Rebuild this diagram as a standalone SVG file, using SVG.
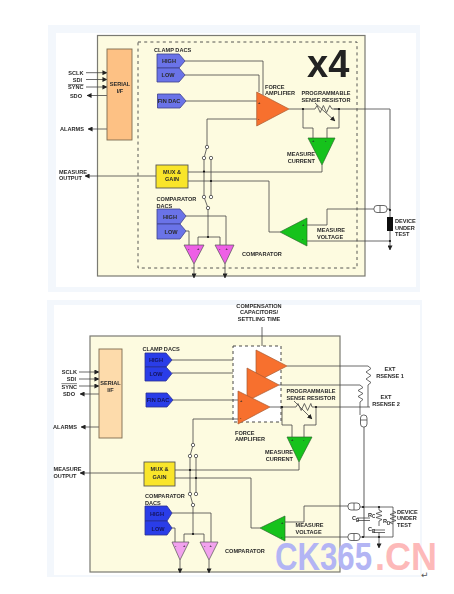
<svg xmlns="http://www.w3.org/2000/svg" width="454" height="594" viewBox="0 0 454 594">
<defs>
<marker id="ah" viewBox="0 0 6 6" refX="5.500" refY="3" markerWidth="5" markerHeight="5" markerUnits="userSpaceOnUse" orient="auto"><path d="M0 0L6 3L0 6Z" fill="#222"/></marker>
<filter id="soft" x="-5%" y="-5%" width="110%" height="110%"><feGaussianBlur stdDeviation="0.28"/></filter>
</defs>
<style>
text{font-family:"Liberation Sans",Arial,sans-serif;font-weight:700;font-size:5.6px;fill:#2a2a2a}
.m{text-anchor:middle}.e{text-anchor:end}
.sg{font-size:4px}
.panel{fill:#fdfbe0;stroke:#7a7a72;stroke-width:1.2}
.dash{fill:none;stroke:#444;stroke-width:.9;stroke-dasharray:3 3.2}
.w{fill:none;stroke:#444;stroke-width:.8}
.th{fill:none;stroke:#777;stroke-width:1.2}
.a{marker-end:url(#ah)}
.dot{fill:#111}
.sw{fill:#fff;stroke:#444;stroke-width:.8}
.d1{fill:#6a73e8;stroke:#3d3f8a;stroke-width:.8}
.d2{fill:#2a3ee8;stroke:#2a2f90;stroke-width:.8}
.or{fill:#f7702e;stroke:#a85a30;stroke-width:.7}
.gr{fill:#12c21a;stroke:#2c6b2c;stroke-width:.7}
.mg{fill:#ee5fe6;stroke:#555;stroke-width:.7}
.pk{fill:#f2a2ee;stroke:#555;stroke-width:.7}
.ye{fill:#f9e52a;stroke:#555;stroke-width:.9}
.s1{fill:#fdc184;stroke:#7d6a50;stroke-width:.9}
.s2{fill:#fddbab;stroke:#7d6a50;stroke-width:.9}
.cap{fill:#fff;stroke:#444;stroke-width:.8}
</style>
<rect width="454" height="594" fill="#fff"/>
<rect x="48" y="25" width="372" height="267" fill="#f3f7fc"/>
<rect x="56" y="33" width="360" height="254" fill="#fff"/>
<rect x="47" y="300" width="375" height="277" fill="#f3f7fc"/>
<rect x="54" y="305" width="366" height="270" fill="#fff"/>
<g filter="url(#soft)">
<g id="panel-top"><rect class="panel" x="97.500" y="35.500" width="267.500" height="240.500"/><rect class="dash" x="138" y="42" width="219" height="226"/></g>
<g id="panel-bottom"><rect class="panel" x="90" y="336" width="250" height="236"/><rect x="233" y="346" width="48" height="76" fill="#fff" stroke="#333" stroke-width=".9" stroke-dasharray="3 3"/></g>

<g id="connectors">
<path class="w a" d="M86 72.700H107"/><path class="w a" d="M86 79.500H107"/><path class="w a" d="M86 87H107"/><path class="w a" d="M107 95.500H87"/><path class="w a" d="M107 129H88"/>
<path class="w" d="M185 61H263V95M185 75H259V92M186 101H257M257 119H207V147"/>
<path class="w" d="M207 147L204 158M204 158V197M211 158V197M204 197L208 208V237M198 245V237H220V245"/>
<path class="w a" d="M156 176H85"/>
<path class="w" d="M188 172H322V165M188 181H269V232H280"/>
<path class="w" d="M289 109H315M334 109H390M303 109V128H313V138M339 109V128H327V138"/>
<path class="w" d="M315 109l2-3.500 3.200 7 3.200-7 3.200 7 3.200-7 2.200 3.500H339"/>
<path class="w a" d="M315 103L335 121"/>
<path class="th a" d="M390 109V250"/>
<path class="w" d="M307 225H327V209H374M387 209H390M307 241H390"/>
<path class="w" d="M186 216H226V245M186 231H189V245"/>
<path class="w a" d="M194 264V278"/><path class="w a" d="M225 264V278"/>

<path class="w a" d="M79 372H99"/><path class="w a" d="M79 379H99"/><path class="w a" d="M79 386H99"/><path class="w a" d="M99 394H80"/><path class="w a" d="M99 427H81"/>
<path class="w" d="M172 360H233M172 373H233M173 400H238M238 419H193V445"/>
<path class="w" d="M193 445L190 456M190 456V494M196 456V494M190 494L193 505V534M184 542V534H204V542"/>
<path class="w a" d="M144 473H80"/>
<path class="w" d="M175 470H299V462M175 478H251V528H260"/>
<path class="w" d="M287 366H368l3 2.500-5 3.500 5 3.500-5 3.500 5 3.500-3 2.500V407M279 385H360l3 2.500-5 3 5 3-5 3 5 3-3 2.500V415M270 407H296M312 407H370M282 407V425H292V437M316 407V425H304V437"/>
<path class="w" d="M296 407l2-3.500 3.200 7 3.200-7 3.200 7 3.200-7 1.200 3.500"/>
<path class="w a" d="M294 401L312 419"/>
<path class="w" d="M262 327V346"/>
<path class="th" d="M364 427V537"/>
<path class="w" d="M285 522H304V506H348M360 507H393V537H360M285 537H348"/>
<path class="w" d="M379 507v3l3 1.500-6 2 6 2-6 2 6 2-3 1.500v5M373 530H385M373 532.500H385M379 532.500V537M393 511l3 1.500-6 2 6 2-6 2 6 2-6 2 3 1.500M357 518H370M357 520.500H370"/>
<path class="w a" d="M379 537V548"/>
<path class="w" d="M172 513H211V542M172 528H175V542"/>
<path class="w a" d="M180 560V573"/><path class="w a" d="M209 560V573"/>
<g class="dot"><circle cx="303" cy="109" r="1.100"/><circle cx="339" cy="109" r="1.100"/><circle cx="204" cy="171.500" r="1.100"/><circle cx="211" cy="181" r="1.100"/><circle cx="208" cy="237" r="1.100"/><circle cx="390" cy="210" r="1.100"/><circle cx="390" cy="241" r="1.100"/><circle cx="282" cy="407" r="1.100"/><circle cx="316" cy="407" r="1.100"/><circle cx="190" cy="470" r="1.100"/><circle cx="196" cy="478" r="1.100"/><circle cx="193" cy="534" r="1.100"/><circle cx="363" cy="507" r="1.100"/><circle cx="363" cy="537" r="1.100"/><circle cx="379" cy="507" r="1.100"/><circle cx="379" cy="537" r="1.100"/></g>
<g><circle class="sw" cx="207" cy="147" r="1.700"/><circle class="sw" cx="204" cy="158" r="1.700"/><circle class="sw" cx="211" cy="158" r="1.700"/><circle class="sw" cx="204" cy="197" r="1.700"/><circle class="sw" cx="211" cy="197" r="1.700"/><circle class="sw" cx="208" cy="208" r="1.700"/><circle class="sw" cx="193" cy="445" r="1.700"/><circle class="sw" cx="190" cy="456" r="1.700"/><circle class="sw" cx="196" cy="456" r="1.700"/><circle class="sw" cx="190" cy="494" r="1.700"/><circle class="sw" cx="196" cy="494" r="1.700"/><circle class="sw" cx="193" cy="505" r="1.700"/></g>
</g>

<g id="serial-top"><rect class="s1" x="107" y="49" width="25" height="91"/><text class="m" x="120" y="86">SERIAL</text><text class="m" x="120" y="93">I/F</text></g>
<g id="signals-top"><text class="e" x="83.500" y="75">SCLK</text><text class="e" x="82" y="81.500">SDI</text><text class="e" x="83.500" y="89" text-decoration="overline">SYNC</text><text class="e" x="82" y="97.500">SDO</text><text class="e" x="84" y="131">ALARMS</text><text x="59" y="173.500">MEASURE</text><text x="59" y="180">OUTPUT</text></g>
<g id="clamp-dacs-top"><text x="154" y="51.500">CLAMP DACS</text>
<path class="d1" d="M157 54H179L185 61L179 68H157Z"/><text class="m" x="169" y="63">HIGH</text>
<path class="d1" d="M157 68H179L185 75L179 82H157Z"/><text class="m" x="168" y="77">LOW</text></g>
<g id="fin-dac-top"><path class="d1" d="M157.500 94H180L186 101L180 108H157.500Z"/><text class="m" x="169" y="103">FIN DAC</text></g>
<g id="force-amp-top"><path class="or" d="M256.700 92V126L289 109Z"/><text class="sg" x="258" y="103.500">+</text><text class="sg" x="258" y="120">-</text><text x="265" y="88.500">FORCE</text><text x="265" y="95">AMPLIFIER</text></g>
<g id="x4"><text x="307" y="77" style="font-size:38px;fill:#222">x4</text></g>
<g id="sense-top"><text x="301.500" y="94.500">PROGRAMMABLE</text><text x="301.500" y="101.500">SENSE RESISTOR</text></g>
<g id="measure-current-top"><path class="gr" d="M308 138H335L322 165Z"/><text class="sg" x="312" y="142">+</text><text class="sg" x="325" y="142">-</text><text class="e" x="315" y="156">MEASURE</text><text class="e" x="315" y="162.500">CURRENT</text></g>
<g id="mux-top"><rect class="ye" x="156" y="165" width="32" height="23"/><text class="m" x="172" y="173.500">MUX &amp;</text><text class="m" x="172" y="180.500">GAIN</text></g>
<g id="comparator-dacs-top"><text x="156.500" y="200.500">COMPARATOR</text><text x="156.500" y="207.500">DACS</text>
<path class="d1" d="M157 209H180L186 216L180 224H157Z"/><text class="m" x="170" y="219">HIGH</text>
<path class="d1" d="M157 224H180L186 231L180 239H157Z"/><text class="m" x="171" y="234">LOW</text></g>
<g id="comparators-top"><path class="mg" d="M184 245H204L194 264Z"/><path class="mg" d="M215 245H234L225 264Z"/><text class="sg" x="188" y="250">-</text><text class="sg" x="197" y="250">+</text><text class="sg" x="219" y="250">-</text><text class="sg" x="225.500" y="250">+</text><text x="242" y="255.500">COMPARATOR</text></g>
<g id="measure-voltage-top"><path class="gr" d="M280 232L307 218V246Z"/><text class="sg" x="302" y="226">+</text><text class="sg" x="302" y="240">-</text><text x="317" y="231.500">MEASURE</text><text x="317" y="238.500">VOLTAGE</text></g>
<g id="dut-top"><rect x="374" y="205.500" width="13" height="7" rx="3" class="cap"/><path class="w" d="M380 205.500V212.500"/><rect x="387" y="217" width="6" height="14" fill="#111"/><text x="395" y="222.500">DEVICE</text><text x="395" y="229.500">UNDER</text><text x="395" y="236">TEST</text></g>

<g id="serial-bottom"><rect class="s2" x="99" y="349" width="23" height="89"/><text class="m" x="110.500" y="385">SERIAL</text><text class="m" x="110.500" y="392">I/F</text></g>
<g id="signals-bottom"><text class="e" x="77" y="374">SCLK</text><text class="e" x="76" y="381">SDI</text><text class="e" x="77" y="388.500" text-decoration="overline">SYNC</text><text class="e" x="75" y="396">SDO</text><text class="e" x="77" y="429">ALARMS</text><text x="53.500" y="471">MEASURE</text><text x="53.500" y="478">OUTPUT</text></g>
<g id="clamp-dacs-bottom"><text x="142.500" y="351">CLAMP DACS</text>
<path class="d2" d="M145 353H166L172 360L166 367H145Z"/><text class="m" x="156" y="362" style="fill:#14145a">HIGH</text>
<path class="d2" d="M145 367H166L172 373.500L166 381H145Z"/><text class="m" x="156" y="375.500" style="fill:#14145a">LOW</text></g>
<g id="fin-dac-bottom"><path class="d2" d="M146 393H167L173 400L167 407H146Z"/><text class="m" x="158" y="402" style="fill:#14145a">FIN DAC</text></g>
<g id="compensation"><text class="m" x="259" y="307.500">COMPENSATION</text><text class="m" x="259" y="314">CAPACITORS/</text><text class="m" x="259" y="320.500">SETTLING TIME</text></g>
<g id="force-amp-3"><path class="or" d="M256 350V382L287 366Z"/></g>
<g id="force-amp-2"><path class="or" d="M247 368V401L279 385Z"/></g>
<g id="force-amp-1"><path class="or" d="M238 391V424L270 407Z"/><text class="sg" x="240" y="402">+</text><text class="sg" x="240" y="419">-</text></g>
<g id="force-label-bottom"><text x="235" y="434.500">FORCE</text><text x="235" y="441">AMPLIFIER</text></g>
<g id="sense-bottom"><text x="286.500" y="393">PROGRAMMABLE</text><text x="286.500" y="400">SENSE RESISTOR</text></g>
<g id="rsense"><text class="m" x="390" y="371">EXT</text><text class="m" x="390" y="377.500">RSENSE 1</text><text class="m" x="386" y="399">EXT</text><text class="m" x="386" y="405.500">RSENSE 2</text></g>
<g id="rsense-cap"><rect class="cap" x="360.500" y="415" width="6.500" height="12" rx="3"/><path class="w" d="M360.500 420H367"/></g>
<g id="measure-current-bottom"><path class="gr" d="M287 437H312L299 462Z"/><text class="sg" x="291" y="441">+</text><text class="sg" x="303" y="441">-</text><text class="e" x="293" y="454">MEASURE</text><text class="e" x="293" y="460.500">CURRENT</text></g>
<g id="mux-bottom"><rect class="ye" x="144" y="462" width="31" height="24"/><text class="m" x="159.500" y="471">MUX &amp;</text><text class="m" x="159.500" y="478.500">GAIN</text></g>
<g id="comparator-dacs-bottom"><text x="145" y="498">COMPARATOR</text><text x="145" y="504.500">DACS</text>
<path class="d2" d="M145 506H167L172 513L167 521H145Z"/><text class="m" x="157" y="516" style="fill:#14145a">HIGH</text>
<path class="d2" d="M145 521H167L172 528L167 535H145Z"/><text class="m" x="158" y="530.500" style="fill:#14145a">LOW</text></g>
<g id="comparators-bottom"><path class="pk" d="M172 542H189L180 560Z"/><path class="pk" d="M200 542H218L209 560Z"/><text class="sg" x="175" y="546.500">-</text><text class="sg" x="183" y="546.500">+</text><text class="sg" x="204" y="546.500">-</text><text class="sg" x="209.500" y="546.500">+</text><text x="225" y="552.500">COMPARATOR</text></g>
<g id="measure-voltage-bottom"><path class="gr" d="M260 528L285 516V541Z"/><text class="sg" x="281" y="524">+</text><text class="sg" x="281" y="538">-</text><text x="295.500" y="527">MEASURE</text><text x="295.500" y="534">VOLTAGE</text></g>
<g id="dut-bottom"><rect class="cap" x="348" y="503" width="12" height="7" rx="3"/><path class="w" d="M354 503V510"/><rect class="cap" x="348" y="533.500" width="12" height="7" rx="3"/><path class="w" d="M354 533.500V540.500"/>
<text x="352" y="520">C<tspan dy="1.500" font-size="4.500">D</tspan></text><text x="368" y="516.500">R<tspan dy="1.500" font-size="4.500">C</tspan></text><text x="383" y="523">R<tspan dy="1.500" font-size="4.500">D</tspan></text><text x="368" y="531">C<tspan dy="1.500" font-size="4.500">R</tspan></text><text x="397" y="513.500">DEVICE</text><text x="397" y="520">UNDER</text><text x="397" y="526.500">TEST</text></g>
</g>
<g id="watermark"><text x="275" y="570" style="font-size:38px;fill:#b3b5f4" textLength="97" lengthAdjust="spacingAndGlyphs">CK365</text><text x="375" y="570" style="font-size:38px;fill:#fdb9b9" textLength="62" lengthAdjust="spacingAndGlyphs">.CN</text></g>
<g id="return-mark"><text x="421" y="578" style="font-size:9px;font-weight:400;fill:#555;font-family:'DejaVu Sans',sans-serif">↵</text></g>
</svg>
